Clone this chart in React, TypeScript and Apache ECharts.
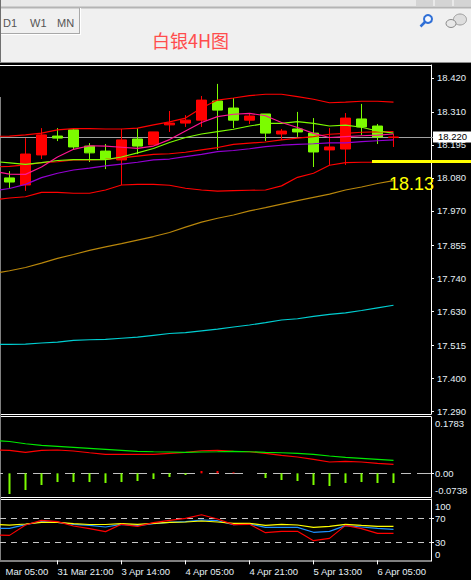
import React, { useEffect, useRef } from "react";
import * as echarts from "echarts";

const categories = [
  "31 Mar 05:00", "31 Mar 09:00", "31 Mar 13:00", "31 Mar 17:00", "31 Mar 21:00",
  "3 Apr 02:00", "3 Apr 06:00", "3 Apr 10:00", "3 Apr 14:00", "3 Apr 18:00", "3 Apr 22:00", "4 Apr 01:00",
  "4 Apr 05:00", "4 Apr 09:00", "4 Apr 13:00", "4 Apr 17:00", "4 Apr 21:00",
  "5 Apr 01:00", "5 Apr 05:00", "5 Apr 09:00", "5 Apr 13:00", "5 Apr 17:00", "5 Apr 21:00", "6 Apr 01:00",
  "6 Apr 05:00", "6 Apr 09:00", "6 Apr 13:00", "6 Apr 17:00",
];
const clippedFirstLabel = "Mar 05:00";

const opens = ["-", 18.081, 18.057, 18.159, 18.223, 18.244, 18.189, 18.172, 18.142, 18.213, 18.193, 18.261, 18.267, 18.277, 18.342, 18.318, 18.277, 18.298, 18.23, 18.247, 18.233, 18.176, 18.179, 18.281, 18.257, 18.218];
const closes = ["-", 18.067, 18.162, 18.227, 18.216, 18.186, 18.166, 18.145, 18.21, 18.189, 18.237, 18.267, 18.277, 18.345, 18.311, 18.277, 18.291, 18.233, 18.24, 18.237, 18.169, 18.186, 18.284, 18.254, 18.22, 18.22];
const lows = ["-", 18.047, 18.037, 18.145, 18.206, 18.176, 18.135, 18.111, 18.057, 18.162, 18.193, 18.237, 18.254, 18.254, 18.176, 18.25, 18.264, 18.206, 18.21, 18.22, 18.118, 18.125, 18.125, 18.227, 18.196, 18.186];
const highs = ["-", 18.104, 18.216, 18.25, 18.25, 18.247, 18.199, 18.196, 18.247, 18.25, 18.237, 18.308, 18.294, 18.359, 18.4, 18.352, 18.301, 18.298, 18.247, 18.305, 18.284, 18.25, 18.301, 18.332, 18.264, 18.23];

const bandUpper = [18.222, 18.223, 18.227, 18.233, 18.244, 18.248, 18.248, 18.247, 18.247, 18.25, 18.261, 18.271, 18.284, 18.318, 18.345, 18.352, 18.36, 18.365, 18.365, 18.357, 18.348, 18.336, 18.338, 18.341, 18.341, 18.338];
const bandMiddle = [18.118, 18.12, 18.125, 18.133, 18.136, 18.142, 18.142, 18.144, 18.149, 18.155, 18.161, 18.163, 18.168, 18.176, 18.184, 18.195, 18.199, 18.203, 18.21, 18.216, 18.221, 18.229, 18.232, 18.236, 18.237, 18.238];
const bandLower = [18.006, 18.013, 18.017, 18.032, 18.032, 18.029, 18.029, 18.04, 18.057, 18.059, 18.059, 18.056, 18.046, 18.04, 18.036, 18.038, 18.039, 18.04, 18.054, 18.083, 18.097, 18.124, 18.133, 18.134, 18.134, 18.134];
const maLime = [18.137, 18.132, 18.127, 18.133, 18.14, 18.143, 18.143, 18.143, 18.152, 18.166, 18.181, 18.201, 18.218, 18.23, 18.238, 18.246, 18.257, 18.266, 18.266, 18.272, 18.266, 18.257, 18.26, 18.253, 18.24, 18.233];
const maPink = [18.104, 18.094, 18.093, 18.118, 18.152, 18.178, 18.19, 18.189, 18.185, 18.181, 18.189, 18.211, 18.24, 18.269, 18.289, 18.297, 18.3, 18.292, 18.269, 18.252, 18.232, 18.218, 18.221, 18.224, 18.226, 18.23];
const maPurple = [18.037, 18.045, 18.059, 18.082, 18.097, 18.108, 18.114, 18.122, 18.128, 18.134, 18.142, 18.145, 18.153, 18.161, 18.17, 18.174, 18.18, 18.187, 18.192, 18.195, 18.197, 18.2, 18.2, 18.204, 18.207, 18.21];
const maOrange = [17.757, 17.766, 17.777, 17.792, 17.808, 17.821, 17.835, 17.847, 17.858, 17.87, 17.882, 17.896, 17.914, 17.931, 17.944, 17.955, 17.969, 17.98, 17.992, 18.004, 18.015, 18.026, 18.04, 18.05, 18.062, 18.072];
const maCyan = [17.516, 17.516, 17.517, 17.521, 17.524, 17.53, 17.532, 17.533, 17.537, 17.541, 17.547, 17.553, 17.556, 17.562, 17.568, 17.575, 17.582, 17.59, 17.599, 17.603, 17.611, 17.618, 17.623, 17.631, 17.64, 17.649];

const macdGreen = [0.1163, 0.1128, 0.105, 0.0993, 0.0957, 0.0922, 0.0887, 0.0851, 0.0816, 0.078, 0.0766, 0.0755, 0.0745, 0.0755, 0.0766, 0.078, 0.0766, 0.0745, 0.073, 0.0709, 0.0674, 0.0613, 0.0567, 0.0532, 0.0496, 0.0461];
const macdRed = [0.0826, 0.0816, 0.0745, 0.0816, 0.0826, 0.0791, 0.073, 0.0674, 0.0674, 0.0674, 0.0674, 0.0709, 0.0745, 0.0801, 0.0816, 0.078, 0.0766, 0.0709, 0.0638, 0.0578, 0.0496, 0.0401, 0.0426, 0.0401, 0.0355, 0.0319];
const macdBars = ["-", -0.0734, -0.0592, -0.0415, -0.0309, -0.0309, -0.0309, -0.0344, -0.0309, -0.0273, -0.0202, -0.0131, -0.006, 0.0082, 0.0082, 0.0035, 0, -0.0167, -0.0238, -0.0273, -0.0415, -0.045, -0.0344, -0.0309, -0.0344, -0.0344];

const oscYellow = [60.2, 58.8, 60.8, 63.5, 63.5, 61.3, 59.9, 59.9, 61.3, 60.2, 61.9, 63.5, 64.1, 65.8, 64.1, 61.9, 61.9, 58.5, 60.2, 59.1, 55.2, 56.9, 60.2, 58.5, 56.9, 56.9];
const oscBlue = [53.5, 53.5, 59.7, 64.7, 63.5, 60.2, 58.5, 55.8, 60.2, 58, 61.3, 63.5, 64.7, 67.4, 66.3, 59.7, 60.8, 55.2, 55.2, 55.2, 46.9, 48.5, 58, 55.8, 53.5, 51.9];
const oscRed = [42.4, 41.8, 59.1, 66.9, 64.7, 57.4, 53, 48, 60.2, 56.9, 63, 66.9, 70.2, 76.3, 69.1, 59.7, 60.2, 46.3, 48.5, 48.5, 32.9, 36.8, 58.5, 53, 45.2, 45.2];

const priceTicks = [18.42, 18.305, 18.193, 18.081, 17.969, 17.853, 17.741, 17.629, 17.514, 17.402, 17.29];
const priceTickLabels = ["18.420", "18.310", "18.195", "18.080", "17.970", "17.855", "17.740", "17.630", "17.515", "17.400", "17.290"];
const macdTicks = [0.1783, 0, -0.0617];
const macdTickLabels = ["0.1783", "0.00", "-0.0738"];
const oscTicks = [90, 70, 30, 10];
const oscTickLabels = ["100", "70", "30", "0"];
const lastPrice = 18.22;
const supportPrice = 18.139;

const FONT = "'Liberation Sans', Arial, sans-serif";
const AXIS_TEXT = "#e6f0f6";

const labelOf = (ticks: number[], labels: string[]) => (v: number) => {
  let best = 0;
  ticks.forEach((t, i) => {
    if (Math.abs(t - v) < Math.abs(ticks[best] - v)) best = i;
  });
  return labels[best];
};

const candleRows = opens.map((o, i) => [o, closes[i], lows[i], highs[i]]);

function line(name: string, data: number[], color: string, axis: number) {
  return {
    name,
    type: "line",
    data,
    xAxisIndex: axis,
    yAxisIndex: axis,
    symbol: "none",
    z: 3,
    lineStyle: { color, width: 1.15 },
    silent: true,
  };
}

function hline(x1: number, y1: number, x2: number, y2: number, color: string, lineWidth = 1) {
  return { type: "line", shape: { x1, y1, x2, y2 }, style: { stroke: color, lineWidth }, silent: true };
}

const GRID_LEFT = -14.5;
const GRID_WIDTH = 448;

function buildOption() {
  const xBase = {
    type: "category",
    data: categories,
    boundaryGap: true,
    axisLine: { show: false },
    axisTick: { show: false },
    axisLabel: { show: false },
    splitLine: { show: false },
  };
  const yBase = {
    type: "value",
    position: "right",
    offset: -2.5,
    scale: true,
    splitLine: { show: false },
    axisLine: { show: true, lineStyle: { color: "#fff", width: 1 } },
  };
  const gridBase = { left: GRID_LEFT, width: GRID_WIDTH, outerBoundsMode: "none", containLabel: false };
  return {
    animation: false,
    backgroundColor: "#000",
    title: {
      text: "白银4H图",
      left: 152,
      top: 31,
      padding: 0,
      textStyle: { color: "#ff4d4d", fontSize: 18, fontWeight: "normal", fontFamily: "'Noto Sans CJK SC', sans-serif" },
    },
    grid: [
      { ...gridBase, top: 65, height: 349 },
      { ...gridBase, top: 417, height: 80 },
      { ...gridBase, top: 499, height: 62 },
    ],
    xAxis: [
      { ...xBase, gridIndex: 0 },
      { ...xBase, gridIndex: 1 },
      {
        ...xBase,
        gridIndex: 2,
        axisLine: { show: false },
        axisTick: {
          show: true,
          alignWithLabel: true,
          length: 4,
          interval: (i: number) => i % 4 === 0,
          lineStyle: { color: "#fff" },
        },
        axisLabel: {
          show: true,
          align: "left",
          interval: (i: number) => i % 4 === 0 && i > 0,
          color: AXIS_TEXT,
          fontSize: 9.5,
          fontFamily: FONT,
          margin: 5,
        },
      },
    ],
    yAxis: [
      {
        ...yBase,
        gridIndex: 0,
        min: 17.28,
        max: 18.4641,
        axisTick: { show: true, length: 3, customValues: priceTicks, lineStyle: { color: "#fff" } },
        axisLabel: {
          customValues: priceTicks,
          formatter: labelOf(priceTicks, priceTickLabels),
          color: AXIS_TEXT,
          fontSize: 9.5,
          fontFamily: FONT,
          margin: 6,
        },
      },
      {
        ...yBase,
        gridIndex: 1,
        min: -0.084,
        max: 0.1998,
        axisTick: { show: true, length: 3, customValues: [0], lineStyle: { color: "#fff" } },
        axisLabel: {
          customValues: macdTicks,
          formatter: labelOf(macdTicks, macdTickLabels),
          color: AXIS_TEXT,
          fontSize: 9.5,
          fontFamily: FONT,
          margin: 4,
        },
      },
      {
        ...yBase,
        gridIndex: 2,
        min: -1,
        max: 102.5,
        axisTick: { show: true, length: 3, customValues: [70, 30], lineStyle: { color: "#fff" } },
        axisLabel: {
          customValues: oscTicks,
          formatter: labelOf(oscTicks, oscTickLabels),
          color: AXIS_TEXT,
          fontSize: 9.5,
          fontFamily: FONT,
          margin: 4,
        },
      },
    ],
    series: [
      {
        name: "Price",
        type: "candlestick",
        data: candleRows,
        xAxisIndex: 0,
        yAxisIndex: 0,
        barWidth: 10,
        z: 2,
        clip: false,
        silent: true,
        itemStyle: {
          color: "#ff0000",
          color0: "#7cfc00",
          borderColor: "#ff0000",
          borderColor0: "#7cfc00",
          borderWidth: 1,
        },
        markLine: {
          silent: true,
          symbol: "none",
          z: 1,
          animation: false,
          data: [
            [
              {
                x: 0,
                yAxis: lastPrice,
                lineStyle: { color: "#a0a0a0", width: 1, type: "solid" },
                label: {
                  show: true,
                  position: "end",
                  formatter: "18.220",
                  color: "#000",
                  backgroundColor: "#fff",
                  fontSize: 9.5,
                  fontFamily: FONT,
                  padding: [1, 5, 0, 5],
                  distance: 0,
                },
              },
              { x: 433, yAxis: lastPrice },
            ],
          ],
        },
      },
      line("Band lower", bandLower, "#ff0000", 0),
      line("Band upper", bandUpper, "#ff0000", 0),
      line("Band middle", bandMiddle, "#ff0000", 0),
      line("MA cyan", maCyan, "#00ced1", 0),
      line("MA orange", maOrange, "#b8860b", 0),
      line("MA purple", maPurple, "#9400d3", 0),
      line("MA lime", maLime, "#7cfc00", 0),
      {
        ...line("MA pink", maPink, "#ff1493", 0),
        markLine: {
          silent: true,
          symbol: "none",
          z: 6,
          animation: false,
          data: [
            [
              { x: 372, yAxis: supportPrice, lineStyle: { color: "#ffff00", width: 3, type: "solid" }, label: { show: false } },
              { x: 471, yAxis: supportPrice },
            ],
          ],
        },
      },
      line("MACD red", macdRed, "#ff0000", 1),
      line("MACD green", macdGreen, "#00e800", 1),
      {
        name: "MACD bars",
        type: "bar",
        data: macdBars.map((v) => ({
          value: v,
          itemStyle: { color: typeof v === "number" && v > 0 ? "#ff0000" : "#7cfc00" },
        })),
        xAxisIndex: 1,
        yAxisIndex: 1,
        barWidth: 2,
        z: 3,
        silent: true,
        markLine: {
          silent: true,
          symbol: "none",
          z: 2,
          animation: false,
          data: [
            [
              { x: 0, yAxis: 0, lineStyle: { color: "#c0c0c0", width: 1, type: [18, 14, 10, 6], dashOffset: 15 }, label: { show: false } },
              { x: 431, yAxis: 0 },
            ],
          ],
        },
      },
      line("Osc yellow", oscYellow, "#ffff00", 2),
      line("Osc red", oscRed, "#ff0000", 2),
      {
        ...line("Osc blue", oscBlue, "#1e90ff", 2),
        z: 2,
        markLine: {
          silent: true,
          symbol: "none",
          z: 1,
          animation: false,
          data: [70, 30].map((v) => [
            { x: 0, yAxis: v, lineStyle: { color: "#c8c8c8", width: 1, type: [6, 5] }, label: { show: false } },
            { x: 431, yAxis: v },
          ]),
        },
      },
    ],
    graphic: [
      { type: "rect", shape: { x: 0, y: 0, width: 471, height: 62 }, style: { fill: "#f0f0f0" }, silent: true },
      { type: "rect", shape: { x: 0, y: 0, width: 471, height: 7 }, style: { fill: "#e9e9e9" }, silent: true },
      { type: "rect", shape: { x: 416, y: 0, width: 17, height: 6 }, style: { fill: "#d4d4d4" }, silent: true },
      { type: "rect", shape: { x: 435, y: 0, width: 17, height: 6 }, style: { fill: "#d4d4d4" }, silent: true },
      { type: "rect", shape: { x: 454, y: 0, width: 17, height: 6 }, style: { fill: "#d4d4d4" }, silent: true },
      hline(0, 7.5, 471, 7.5, "#b4b4b4", 2),
      hline(1, 33.5, 80, 33.5, "#a8a8a8", 1),
      hline(1, 34.5, 81, 34.5, "#ffffff", 1),
      hline(79.5, 8, 79.5, 34, "#a8a8a8", 1),
      hline(80.5, 8, 80.5, 35, "#ffffff", 1),
      hline(0.5, 0, 0.5, 62, "#707070", 1),
      { type: "text", x: 3, y: 17, style: { text: "D1", fill: "#555", font: `11px ${FONT}` }, silent: true },
      { type: "text", x: 30, y: 17, style: { text: "W1", fill: "#555", font: `11px ${FONT}` }, silent: true },
      { type: "text", x: 57, y: 17, style: { text: "MN", fill: "#555", font: `11px ${FONT}` }, silent: true },
      { type: "circle", shape: { cx: 428, cy: 19, r: 4 }, style: { fill: "#f4f8ff", stroke: "#2f6fd6", lineWidth: 2 }, silent: true },
      hline(425, 22, 420.5, 26.5, "#2f6fd6", 2.5),
      { type: "ellipse", shape: { cx: 460, cy: 19.5, rx: 6.5, ry: 5.5 }, style: { fill: "#dedede", stroke: "#9a9a9a", lineWidth: 1 }, silent: true },
      { type: "ellipse", shape: { cx: 451, cy: 23.5, rx: 5, ry: 4 }, style: { fill: "#e8e8e8", stroke: "#8a8a8a", lineWidth: 1 }, silent: true },
      hline(0, 62.5, 471, 62.5, "#8a8a8a", 1),
      { type: "rect", shape: { x: 0, y: 63, width: 471, height: 2 }, style: { fill: "#000" }, silent: true },
      hline(0, 65.5, 431.5, 65.5, "#ffffff", 1),
      hline(0, 414.5, 431.5, 414.5, "#ffffff", 1),
      hline(0, 416.5, 431.5, 416.5, "#ffffff", 1),
      hline(0, 497.5, 431.5, 497.5, "#ffffff", 1),
      hline(0, 499.5, 431.5, 499.5, "#ffffff", 1),
      hline(0, 561, 431.5, 561, "#ffffff", 1),
      hline(0.5, 97, 0.5, 562, "#808080", 1),
      {
        type: "text",
        x: 5.5,
        y: 566,
        style: { text: clippedFirstLabel, fill: AXIS_TEXT, font: `9.5px ${FONT}` },
        silent: true,
      },
      {
        type: "text",
        x: 389,
        y: 175,
        z: 10,
        style: { text: "18.13", fill: "#ffff00", font: `18px ${FONT}` },
        silent: true,
      },
    ],
  };
}

export default function App() {
  const ref = useRef<HTMLDivElement>(null);
  useEffect(() => {
    document.body.style.margin = "0";
    document.body.style.overflow = "hidden";
    const chart = echarts.init(ref.current!, null, { renderer: "svg", width: 471, height: 580 });
    chart.setOption(buildOption() as any);
    return () => chart.dispose();
  }, []);
  return <div ref={ref} style={{ width: 471, height: 580, background: "#000" }} />;
}
